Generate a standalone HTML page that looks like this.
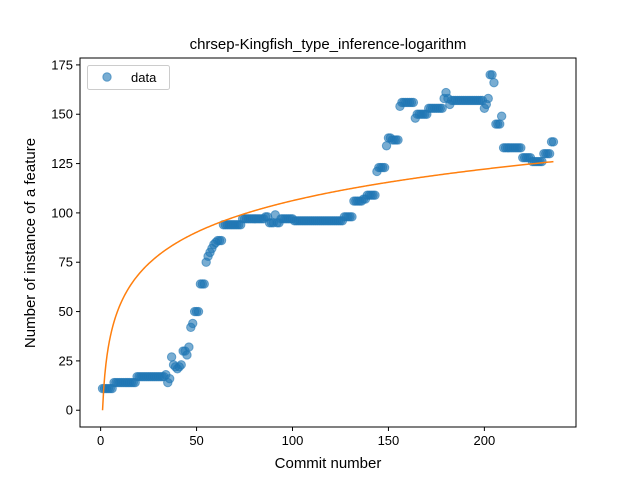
<!DOCTYPE html>
<html><head><meta charset="utf-8"><style>
body{margin:0;background:#fff;}
svg text{font-family:"Liberation Sans","DejaVu Sans",sans-serif;}
</style></head><body>
<svg id="chart" width="640" height="480" xmlns="http://www.w3.org/2000/svg">
<rect width="640" height="480" fill="#fff"/>
<text x="328" y="49" font-size="15" text-anchor="middle">chrsep-Kingfish_type_inference-logarithm</text>
<g id="plot"></g>
<rect x="80" y="58" width="496" height="369" fill="none" stroke="#000" stroke-width="1"/>
<g id="ticks"></g>
<text x="328" y="468" font-size="15" text-anchor="middle">Commit number</text>
<text x="0" y="0" font-size="15" text-anchor="middle" transform="translate(35,243) rotate(-90)">Number of instance of a feature</text>
<g>
<rect x="87.5" y="65.5" width="82" height="24" rx="2" fill="#fff" fill-opacity="0.8" stroke="#ccc"/>
<circle cx="107" cy="77" r="4.2" fill="#1f77b4" fill-opacity="0.6" stroke="#1f77b4" stroke-opacity="0.6"/>
<text x="131" y="82" font-size="13">data</text>
</g>
</svg>
<script>
const values = [11,11,11,11,11,11,
14,14,14,14,14,14,14,14,14,14,14,14,
17,17,17,17,17,17,17,17,17,17,17,17,17,17,17,
18,14,16,27,23,22,21,22,23,30,30,28,32,42,44,50,50,50,64,64,64,75,78,80,82,84,85,86,86,86,
94,94,94,94,94,94,94,94,94,94,
97,97,97,97,97,97,97,97,97,97,97,97,
98,98,95,95,95,99,95,95,
97,97,97,97,97,97,97,
96,96,96,96,96,96,96,96,96,96,96,96,96,96,96,96,96,96,96,96,96,96,96,96,96,96,
98,98,98,98,98,
106,106,106,106,106,107,107,109,109,109,109,109,
121,123,123,123,123,134,138,138,137,137,137,137,154,
156,156,156,156,156,156,156,148,
150,150,150,150,150,150,
153,153,153,153,153,153,153,153,
158,161,158,155,
157,157,157,157,157,157,157,157,157,157,157,157,157,157,157,157,157,
153,155,158,170,170,166,145,145,145,149,
133,133,133,133,133,133,133,133,133,133,
128,128,128,128,128,
126,126,126,126,126,126,
130,130,130,130,136,136];
const commits = values.map((v,i)=>i+1);
const xTicks = [0,50,100,150,200];
const yTicks = [0,25,50,75,100,125,150,175];
const fitA = 0;
const fitB = 23.06;

const NS="http://www.w3.org/2000/svg";
const xMin=-10.75,xMax=247.75,yMin=-8.5,yMax=178.5;
const L=80,R=576,T=58,B=427;
function sx(x){return L+(x-xMin)/(xMax-xMin)*(R-L);}
function sy(y){return B-(y-yMin)/(yMax-yMin)*(B-T);}
const plot=document.getElementById('plot');
commits.forEach((x,i)=>{
 const c=document.createElementNS(NS,'circle');
 c.setAttribute('cx',sx(x));c.setAttribute('cy',sy(values[i]));c.setAttribute('r',4.2);
 c.setAttribute('fill','#1f77b4');c.setAttribute('fill-opacity','0.6');
 c.setAttribute('stroke','#1f77b4');c.setAttribute('stroke-opacity','0.6');
 
 
 plot.appendChild(c);
});
let d='';
const n=commits.length;
for(let k=0;k<=400;k++){
 const x=1+(commits[n-1]-1)*k/400;
 const y=fitA+fitB*Math.log(x);
 d+=(k?'L':'M')+sx(x).toFixed(2)+','+sy(y).toFixed(2);
}
const p=document.createElementNS(NS,'path');
p.setAttribute('d',d);p.setAttribute('fill','none');p.setAttribute('stroke','#ff7f0e');p.setAttribute('stroke-width','1.5');


plot.appendChild(p);
const tg=document.getElementById('ticks');
xTicks.forEach(t=>{
 const x=sx(t);
 const l=document.createElementNS(NS,'line');
 l.setAttribute('x1',x);l.setAttribute('x2',x);l.setAttribute('y1',B);l.setAttribute('y2',B+4);l.setAttribute('stroke','#000');
 
 
 tg.appendChild(l);
 const tx=document.createElementNS(NS,'text');
 tx.setAttribute('x',x);tx.setAttribute('y',B+18);tx.setAttribute('font-size','13');tx.setAttribute('text-anchor','middle');
 tx.textContent=t;
 
 
 tg.appendChild(tx);
});
yTicks.forEach(t=>{
 const y=sy(t);
 const l=document.createElementNS(NS,'line');
 l.setAttribute('x1',L-4);l.setAttribute('x2',L);l.setAttribute('y1',y);l.setAttribute('y2',y);l.setAttribute('stroke','#000');
 
 
 tg.appendChild(l);
 const tx=document.createElementNS(NS,'text');
 tx.setAttribute('x',L-7);tx.setAttribute('y',y+4.5);tx.setAttribute('font-size','13');tx.setAttribute('text-anchor','end');
 tx.textContent=t;
 
 
 tg.appendChild(tx);
});
</script>
</body></html>
